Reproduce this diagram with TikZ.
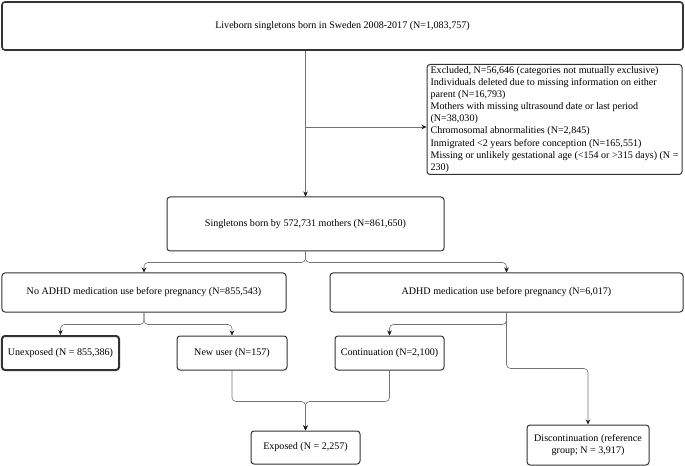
\documentclass[tikz,border=0pt]{standalone}
\usepackage{fontspec}
\setmainfont{Liberation Serif}
\usetikzlibrary{arrows.meta}
\begin{document}
\begin{tikzpicture}[x=1bp,y=-1bp,
  box/.style={draw=black!80, line width=1bp, rounded corners=3bp, inner sep=1bp,
    align=center, font=\fontsize{10.1}{12}\selectfont},
  conn/.style={draw=black!55, line width=0.6bp, rounded corners=4bp},
  arr/.style={conn, -{Stealth[length=5bp,width=4.5bp,color=black!90]}}]
\useasboundingbox (0,0) rectangle (685,466);
\node[box, line width=1.6bp, minimum width=681bp, minimum height=48bp] (top) at (342.5,26)
  {Liveborn singletons born in Sweden 2008-2017 (N=1,083,757)};
\node[box, minimum width=255bp, minimum height=110bp, align=left,
  font=\fontsize{10.1}{12.1}\selectfont, inner sep=0.5bp] (excl) at (554.5,119.5)
  {Excluded, N=56,646 (categories not mutually exclusive)\\
   Individuals deleted due to missing information on either\\ parent (N=16,793)\\
   Mothers with missing ultrasound date or last period\\ (N=38,030)\\
   Chromosomal abnormalities (N=2,845)\\
   Inmigrated <2 years before conception (N=165,551)\\
   Missing or unlikely gestational age (<154 or >315 days) (N =\\ 230)};
\node[box, minimum width=277bp, minimum height=54bp] (sing) at (305.5,224)
  {Singletons born by 572,731 mothers (N=861,650)};
\node[box, minimum width=284bp, minimum height=39bp] (noadhd) at (144,292.5)
  {No ADHD medication use before pregnancy (N=855,543)};
\node[box, minimum width=353bp, minimum height=39bp] (adhd) at (506.5,292.5)
  {ADHD medication use before pregnancy (N=6,017)};
\node[box, line width=2bp, minimum width=117bp, minimum height=34bp] (unexp) at (60.5,353)
  {Unexposed (N = 855,386)};
\node[box, minimum width=110bp, minimum height=34bp] (newuser) at (232,353)
  {New user (N=157)};
\node[box, minimum width=109bp, minimum height=34bp] (cont) at (389.5,353)
  {Continuation (N=2,100)};
\node[box, minimum width=109bp, minimum height=33bp] (exposed) at (305.5,447.5)
  {Exposed (N = 2,257)};
\node[box, minimum width=122bp, minimum height=40bp] (disc) at (588,445)
  {Discontinuation (reference\\ group; N = 3,917)};
% connectors
\draw[arr] (top.south -| sing.north) -- (sing.north);
\coordinate (split) at (sing.north |- 0,127);
\draw[arr] (split) -- (excl.west |- split);
\draw[arr] (sing.south) -- ++(0,11) -| (noadhd.north);
\draw[arr] (sing.south) -- ++(0,11) -| (adhd.north);
\draw[arr] (noadhd.south) -- ++(0,12) -| (unexp.north);
\draw[arr] (noadhd.south) -- ++(0,12) -| (newuser.north);
\draw[arr] (adhd.south) -- ++(0,12) -| (cont.north);
\draw[arr] (adhd.south) -- ++(0,56) -| (disc.north);
\draw[arr] (newuser.south) -- ++(0,31) -| (exposed.north);
\draw[arr] (cont.south) -- ++(0,31) -| (exposed.north);
\end{tikzpicture}
\end{document}
